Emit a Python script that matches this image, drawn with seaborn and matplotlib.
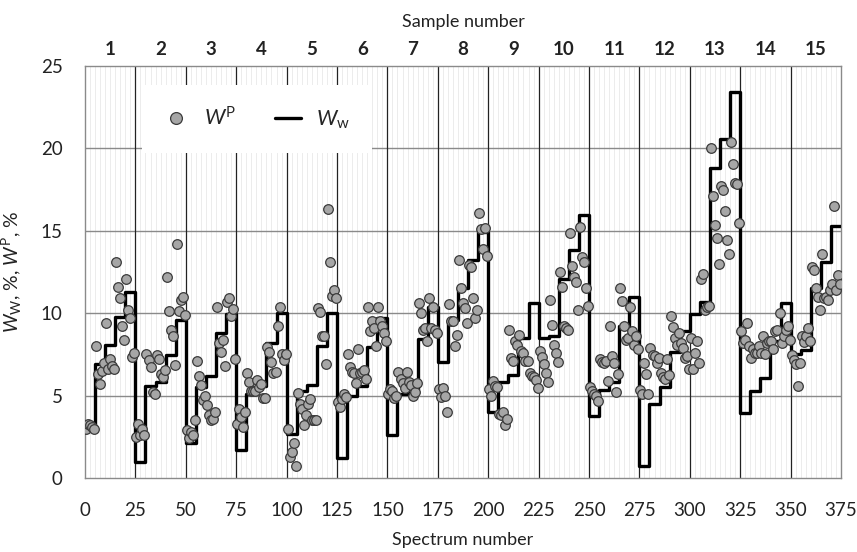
import numpy as np
import pandas as pd
import matplotlib
matplotlib.use("Agg")
import matplotlib.pyplot as plt
from matplotlib.lines import Line2D
import seaborn as sns

# ---- data: W_w step levels (5 per sample) and W^P points (25 per sample) ----
ww_1 = [3.0, 6.9, 8.1, 9.75, 11.3]
ww_2 = [1.0, 5.6, 5.85, 7.45, 9.6]
ww_3 = [2.1, 5.55, 6.2, 8.8, 9.95]
ww_4 = [1.7, 5.1, 5.6, 8.2, 10.0]
ww_5 = [2.65, 5.25, 5.65, 8.0, 10.0]
ww_6 = [1.2, 5.0, 5.6, 7.95, 9.7]
ww_7 = [2.6, 5.1, 5.4, 8.45, 10.4]
ww_8 = [7.05, 9.6, 11.55, 13.2, 14.95]
ww_9 = [4.0, 5.85, 6.25, 8.5, 10.6]
ww_10 = [8.5, 8.6, 12.1, 13.85, 15.95]
ww_11 = [3.75, 5.35, 5.85, 9.2, 11.0]
ww_12 = [0.75, 4.5, 5.5, 7.65, 8.9]
ww_13 = [9.95, 10.7, 18.8, 20.6, 23.4]
ww_14 = [3.95, 5.25, 6.05, 8.3, 10.6]
ww_15 = [7.55, 7.75, 11.5, 13.1, 15.3]

wp_1 = [3.0, 3.3, 3.2, 3.1, 3.0, 8.0, 6.3, 5.7, 6.5, 7.0, 9.4, 6.6, 7.2, 6.8, 6.6,
        13.1, 11.6, 10.9, 9.2, 8.4, 12.1, 10.2, 9.7, 7.35, 7.6]
wp_2 = [2.5, 3.3, 2.6, 3.0, 2.6, 7.5, 7.15, 6.75, 5.2, 5.1, 7.45, 7.25, 6.3, 6.15, 6.55,
        12.2, 10.15, 9.0, 8.6, 6.85, 14.2, 10.15, 10.8, 11.0, 9.9]
wp_3 = [2.9, 2.4, 2.8, 2.6, 3.5, 7.1, 6.2, 5.65, 4.75, 5.0, 4.4, 3.8, 3.5, 3.6, 4.0,
        10.4, 8.2, 7.65, 8.4, 6.8, 10.7, 10.95, 9.8, 10.25, 7.25]
wp_4 = [3.3, 4.2, 3.7, 3.1, 4.0, 6.35, 5.8, 5.25, 5.25, 5.3, 5.95, 5.55, 5.7, 4.85, 4.85,
        7.95, 7.65, 7.05, 6.4, 6.45, 9.2, 10.4, 7.55, 7.15, 7.55]
wp_5 = [2.95, 1.3, 1.6, 2.1, 0.75, 5.15, 4.5, 4.2, 3.2, 3.8, 4.5, 4.8, 3.5, 3.5, 3.5,
        10.3, 10.1, 8.6, 8.6, 6.9, 16.3, 13.1, 11.05, 11.4, 10.9]
wp_6 = [4.6, 4.3, 4.8, 5.1, 4.9, 7.5, 6.75, 6.45, 6.35, 5.75, 7.8, 6.4, 6.45, 6.55, 6.0,
        10.4, 8.9, 9.5, 9.1, 8.0, 10.4, 9.55, 9.2, 8.8, 8.3]
wp_7 = [5.1, 5.4, 5.25, 4.85, 5.0, 6.45, 6.0, 5.75, 5.45, 6.45, 5.85, 5.65, 4.95, 5.2, 5.75,
        10.6, 10.0, 9.0, 9.1, 8.3, 10.9, 9.1, 10.4, 9.0, 8.8]
wp_8 = [5.4, 4.9, 5.45, 5.0, 4.0, 10.55, 9.55, 9.55, 8.0, 8.7, 13.2, 11.5, 10.6, 10.3, 9.4,
        12.9, 12.8, 10.9, 9.7, 10.2, 16.1, 15.1, 13.9, 15.15, 13.5]
wp_9 = [5.4, 5.0, 5.9, 5.6, 5.5, 3.9, 3.8, 4.0, 3.2, 3.6, 9.0, 7.3, 7.1, 8.3, 8.1,
        8.7, 7.7, 7.6, 7.1, 7.1, 6.4, 6.2, 6.1, 5.95, 5.45]
wp_10 = [7.7, 7.35, 6.9, 6.35, 5.8, 10.8, 9.3, 8.1, 7.6, 7.05, 12.5, 11.6, 9.2, 9.1, 9.0,
         14.85, 12.85, 12.2, 11.9, 10.2, 15.25, 13.4, 13.1, 11.55, 10.45]
wp_11 = [5.5, 5.3, 5.1, 5.0, 4.7, 7.25, 7.05, 6.95, 7.1, 5.9, 9.2, 7.4, 7.0, 5.2, 6.3,
         11.5, 10.75, 9.2, 8.4, 8.5, 10.35, 8.9, 8.1, 8.6, 7.8]
wp_12 = [5.35, 5.1, 6.95, 6.3, 5.1, 7.9, 7.45, 7.4, 7.0, 7.3, 6.35, 6.1, 6.0, 7.25, 6.25,
         9.85, 9.15, 8.5, 8.1, 8.8, 8.2, 7.9, 7.3, 7.4, 6.6]
wp_13 = [8.5, 6.6, 7.6, 8.3, 7.0, 12.1, 12.4, 10.2, 10.35, 10.45, 20.0, 17.1, 15.35, 14.55, 13.0,
         17.7, 17.5, 16.2, 14.45, 13.6, 20.4, 19.05, 17.9, 17.85, 15.5]
wp_14 = [8.95, 8.2, 8.4, 9.4, 8.0, 7.3, 7.8, 7.6, 7.6, 8.0, 7.6, 8.6, 7.5, 8.2, 8.3,
         8.3, 7.8, 8.9, 9.0, 10.0, 8.2, 8.6, 9.0, 9.2, 8.4]
wp_15 = [7.45, 7.15, 6.9, 5.6, 7.0, 8.6, 8.25, 8.6, 9.1, 8.3, 12.8, 12.6, 11.5, 11.0, 10.2,
         13.6, 10.9, 11.0, 10.8, 11.4, 11.8, 16.5, 11.4, 12.3, 11.8]

sample_labels = [str(i) for i in range(1, 16)]
x_ticks = list(range(0, 376, 25))
y_ticks = [0, 5, 10, 15, 20, 25]

ww_all = [ww_1, ww_2, ww_3, ww_4, ww_5, ww_6, ww_7, ww_8, ww_9, ww_10, ww_11, ww_12, ww_13, ww_14, ww_15]
wp_all = [wp_1, wp_2, wp_3, wp_4, wp_5, wp_6, wp_7, wp_8, wp_9, wp_10, wp_11, wp_12, wp_13, wp_14, wp_15]

wp_vals = np.concatenate(wp_all)
spectrum = np.arange(len(wp_vals)) + 0.5
levels = np.concatenate(ww_all)
edges = np.arange(len(levels) + 1) * 5
df_pts = pd.DataFrame({"spectrum": spectrum, "wp": wp_vals})
df_line = pd.DataFrame({"spectrum": edges, "ww": np.append(levels, levels[-1])})

# ---- style ----
sns.set_style("white")
plt.rcParams["font.family"] = ["Lato", "DejaVu Sans"]
plt.rcParams["mathtext.fontset"] = "custom"
plt.rcParams["mathtext.rm"] = "Lato"
plt.rcParams["mathtext.it"] = "Lato:italic"
plt.rcParams["mathtext.bf"] = "Lato:bold"

W, H = 857, 552
fig = plt.figure(figsize=(W / 100, H / 100), dpi=100)
ax = fig.add_axes([85 / W, 1 - 478 / H, 756 / W, 412 / H])
ax.set_xlim(0, 375)
ax.set_ylim(0, 25)

# grid
for xv in np.arange(2.5, 375, 2.5):
    ax.axvline(xv, color="#ececec", lw=0.7, zorder=0)
for yv in [5, 10, 15, 20]:
    ax.axhline(yv, color="#8a8a8a", lw=1.0, zorder=1)
for xv in range(25, 375, 25):
    ax.axvline(xv, color="#222222", lw=0.9, zorder=1)

sns.lineplot(data=df_line, x="spectrum", y="ww", ax=ax, color="black", lw=2.4,
             drawstyle="steps-post", estimator=None, sort=False, zorder=3, legend=False)
sns.scatterplot(data=df_pts, x="spectrum", y="wp", ax=ax, s=48, color="#a6a6a6",
                edgecolor="#3a3a3a", linewidth=0.9, zorder=4, legend=False)

for sp in ax.spines.values():
    sp.set_color("#8a8a8a")
    sp.set_linewidth(1.0)

ax.set_xticks(x_ticks)
ax.set_yticks(y_ticks)
ax.tick_params(axis="both", length=0, labelsize=13.5, colors="#222222")
ax.tick_params(axis="x", pad=17)
ax.tick_params(axis="y", pad=16)
ax.set_xlabel("Spectrum number", fontsize=13, labelpad=10, color="#222222")
ax.set_ylabel(r"$W_{\mathrm{W}}$, %, $W^{\mathrm{P}}$, %", fontsize=14, labelpad=12, color="#222222")

ax2 = ax.twiny()
ax2.set_xlim(ax.get_xlim())
ax2.set_xticks([12.5 + 25 * i for i in range(15)])
ax2.set_xticklabels(sample_labels, fontweight="bold", fontsize=13.5)
ax2.tick_params(axis="x", length=0, pad=6, colors="#222222")
ax2.set_xlabel("Sample number", fontsize=13, labelpad=10, color="#222222")
for sp in ax2.spines.values():
    sp.set_visible(False)

handles = [
    Line2D([], [], marker="o", ls="none", markersize=8.5, markerfacecolor="#a6a6a6",
           markeredgecolor="#3a3a3a", markeredgewidth=0.9),
    Line2D([], [], color="black", lw=2.4),
]
leg = ax.legend(handles, [r"$W^{\mathrm{P}}$", r"$W_{\mathrm{w}}$"], ncol=2,
                loc="upper left", bbox_to_anchor=(0.075, 0.954), borderaxespad=0,
                frameon=True, fancybox=False, facecolor="white", edgecolor="none",
                framealpha=1, fontsize=15.5, handlelength=1.2, handletextpad=0.7,
                columnspacing=1.8, borderpad=1.0)
leg.set_zorder(10)

fig.savefig("out.png", dpi=100)
